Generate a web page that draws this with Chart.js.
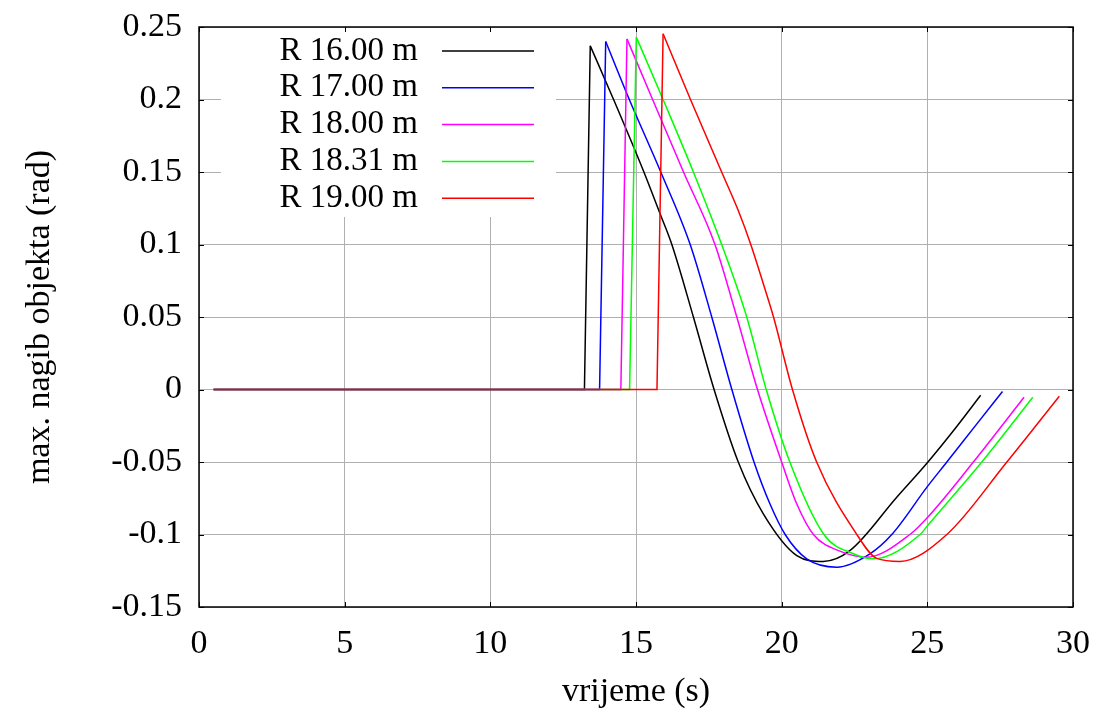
<!DOCTYPE html>
<html>
<head>
<meta charset="utf-8">
<script src="https://cdn.jsdelivr.net/npm/chart.js@4/dist/chart.umd.min.js"></script>
<style>
  html, body { margin: 0; padding: 0; background: #fff; }
</style>
</head>
<body>
<canvas id="nagibChart" width="1102" height="720"></canvas>
<script>
// vrijeme (s) / max. nagib (rad) for each radius
const labels = ["R 16.00 m", "R 17.00 m", "R 18.00 m", "R 18.31 m", "R 19.00 m"];
const colors = ["#000000", "#0000ff", "#ff00ff", "#00ff00", "#ff0000"];

const tR16 = [0.5, 13.23, 13.43, 14.23, 15.25, 15.83, 16.23, 16.97, 17.68, 18.51, 19.37, 20.52, 21.43, 22.35, 23.95, 25.0, 26.01, 26.83];
const vR16 = [0, 0, 0.237, 0.2, 0.151, 0.121, 0.1, 0.05, 0, -0.05, -0.0857, -0.1145, -0.1186, -0.111, -0.0743, -0.0505, -0.0255, -0.004];

const tR17 = [0.5, 13.75, 13.96, 14.77, 15.85, 16.86, 17.6, 18.29, 19.05, 19.6, 20.12, 20.86, 21.89, 23.03, 23.78, 25.0, 25.67, 26.7, 27.58];
const vR17 = [0, 0, 0.240, 0.2, 0.15, 0.1, 0.05, 0, -0.05, -0.079, -0.1, -0.1168, -0.1225, -0.1133, -0.1, -0.067, -0.05, -0.0237, -0.0014];

const tR18 = [0.5, 14.48, 14.69, 15.57, 16.63, 17.71, 18.46, 19.17, 20.0, 20.52, 21.09, 22.0, 22.9, 24.4, 25.06, 26.58, 28.32];
const vR18 = [0, 0, 0.2418, 0.2, 0.15, 0.1, 0.05, 0, -0.05, -0.079, -0.1, -0.1115, -0.1157, -0.1, -0.087, -0.05, -0.0053];

const tR1831 = [0.5, 14.78, 15.01, 15.93, 16.97, 17.94, 18.8, 19.47, 20.28, 21.45, 22.46, 23.15, 24.75, 25.06, 26.87, 28.62];
const vR1831 = [0, 0, 0.243, 0.2, 0.15, 0.1, 0.05, 0, -0.05, -0.1, -0.1133, -0.1168, -0.1, -0.0926, -0.05, -0.0053];

const tR19 = [0.5, 15.72, 15.93, 16.87, 17.94, 18.51, 18.94, 19.37, 19.72, 20.37, 21.2, 22.58, 23.26, 24.06, 25.67, 27.73, 29.53];
const vR19 = [0, 0, 0.2453, 0.2, 0.15, 0.1234, 0.1, 0.0729, 0.05, 0, -0.05, -0.1, -0.1165, -0.1186, -0.1, -0.05, -0.0046];

const xTickLabels = ["0", "5", "10", "15", "20", "25", "30"];
const yTickLabels = ["-0.15", "-0.1", "-0.05", "0", "0.05", "0.1", "0.15", "0.2", "0.25"];

const times = [tR16, tR17, tR18, tR1831, tR19];
const values = [vR16, vR17, vR18, vR1831, vR19];
const PEAK = 2; // index of the peak in every series

const serif = '"Liberation Serif", "Times New Roman", serif';

// each series = straight jump up to the peak + smooth decay after it
const datasets = [];
labels.forEach((label, i) => {
  const pts = times[i].map((t, j) => ({ x: t, y: values[i][j] }));
  const common = {
    label: label,
    borderColor: colors[i],
    borderWidth: 1.5,
    pointRadius: 0,
    fill: false,
    order: labels.length - 1 - i // red on top, like the original
  };
  datasets.push(Object.assign({}, common, { data: pts.slice(0, PEAK + 1), tension: 0 }));
  datasets.push(Object.assign({}, common, { data: pts.slice(PEAK), cubicInterpolationMode: "monotone" }));
});

// gnuplot style frame, key box and inward ticks
const gnuFrame = {
  id: "gnuFrame",
  beforeDatasetsDraw(chart) {
    const ctx = chart.ctx;
    const a = chart.chartArea;
    ctx.save();
    ctx.fillStyle = "#fff";
    ctx.fillRect(a.left + 22, a.top + 1, 335, 189);
    ctx.restore();
  },
  afterDatasetsDraw(chart) {
    const ctx = chart.ctx;
    const a = chart.chartArea;
    ctx.save();

    ctx.font = "33px " + serif;
    ctx.textAlign = "right";
    ctx.textBaseline = "middle";
    labels.forEach((label, i) => {
      const y = a.top + 24 + i * 36.8;
      ctx.fillStyle = "#000";
      ctx.fillText(label, a.left + 219, y);
      ctx.strokeStyle = colors[i];
      ctx.lineWidth = 1.5;
      ctx.beginPath();
      ctx.moveTo(a.left + 243, y);
      ctx.lineTo(a.left + 335, y);
      ctx.stroke();
    });

    ctx.strokeStyle = "#000";
    ctx.lineWidth = 1;
    const xs = chart.scales.x, ys = chart.scales.y;
    ctx.beginPath();
    xs.ticks.forEach(t => {
      const px = Math.round(xs.getPixelForValue(t.value)) + 0.5;
      ctx.moveTo(px, a.bottom); ctx.lineTo(px, a.bottom - 5);
      ctx.moveTo(px, a.top); ctx.lineTo(px, a.top + 5);
    });
    ys.ticks.forEach(t => {
      const py = Math.round(ys.getPixelForValue(t.value)) + 0.5;
      ctx.moveTo(a.left, py); ctx.lineTo(a.left + 5, py);
      ctx.moveTo(a.right, py); ctx.lineTo(a.right - 5, py);
    });
    ctx.stroke();

    ctx.lineWidth = 1.5;
    ctx.strokeRect(a.left, a.top, a.right - a.left, a.bottom - a.top);
    ctx.restore();
  }
};

new Chart(document.getElementById("nagibChart").getContext("2d"), {
  type: "line",
  data: { datasets: datasets },
  options: {
    responsive: false,
    animation: false,
    layout: { padding: { left: 0, top: 27, right: 29, bottom: 0 } },
    plugins: { legend: { display: false }, tooltip: { enabled: false } },
    scales: {
      x: {
        type: "linear",
        min: 0,
        max: 30,
        border: { display: false },
        grid: { color: "#b0b0b0", lineWidth: 1, drawTicks: false },
        ticks: {
          stepSize: 5,
          padding: 17,
          color: "#000",
          font: { family: serif, size: 34 },
          maxRotation: 0,
          callback: (v, i) => xTickLabels[i]
        },
        title: {
          display: true,
          text: "vrijeme (s)",
          color: "#000",
          font: { family: serif, size: 34 },
          padding: { top: 8, bottom: 8 }
        },
        afterFit(scale) {
          scale.height = 113;
          scale.paddingLeft = 0;
          scale.paddingRight = 0;
        }
      },
      y: {
        min: -0.15,
        max: 0.25,
        border: { display: false },
        grid: { color: "#b0b0b0", lineWidth: 1, drawTicks: false },
        ticks: {
          stepSize: 0.05,
          padding: 17,
          color: "#000",
          font: { family: serif, size: 34 },
          callback: (v, i) => yTickLabels[i]
        },
        title: {
          display: true,
          text: "max. nagib objekta (rad)",
          color: "#000",
          font: { family: serif, size: 34 },
          padding: { top: 20, bottom: 20 }
        },
        afterFit(scale) {
          scale.width = 199;
          scale.paddingTop = 0;
          scale.paddingBottom = 0;
        }
      }
    }
  },
  plugins: [gnuFrame]
});
</script>
</body>
</html>
